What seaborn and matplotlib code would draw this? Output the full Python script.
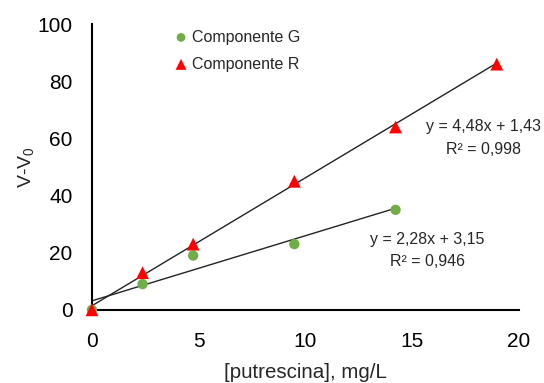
import matplotlib
matplotlib.use("Agg")
import matplotlib.pyplot as plt
import seaborn as sns
import numpy as np
import pandas as pd

# data
conc_g = [0, 2.37, 4.74, 9.48, 14.22]
vals_g = [0, 9, 19, 23, 35]
conc_r = [0, 2.37, 4.74, 9.48, 14.22, 18.96]
vals_r = [0, 13, 23, 45, 64, 86]
fit_g = (2.28, 3.15)
fit_r = (4.48, 1.43)
eq_g = ["y = 2,28x + 3,15", "R² = 0,946"]
eq_r = ["y = 4,48x + 1,43", "R² = 0,998"]

sns.set_style("white")
plt.rcParams['font.family'] = ['Liberation Sans', 'DejaVu Sans']
plt.rcParams['mathtext.fontset'] = 'custom'
plt.rcParams['mathtext.rm'] = 'Liberation Sans'
plt.rcParams['mathtext.it'] = 'Liberation Sans'

df_g = pd.DataFrame({'x': conc_g, 'y': vals_g, 's': 'Componente G'})
df_r = pd.DataFrame({'x': conc_r, 'y': vals_r, 's': 'Componente R'})

fig = plt.figure(figsize=(5.44, 3.83), dpi=100)
ax = fig.add_axes([0.169, 0.191, 0.785, 0.746])

# trend lines
for xs, (m, b) in [(conc_g, fit_g), (conc_r, fit_r)]:
    xx = np.array([0, max(xs)])
    ax.plot(xx, m * xx + b, color='#222222', lw=1.0, zorder=2)

sns.scatterplot(data=df_g, x='x', y='y', label='Componente G', color='#70AD47',
                marker='o', s=55, edgecolor='none', ax=ax, zorder=3)
sns.scatterplot(data=df_r, x='x', y='y', label='Componente R', color='#FF0000',
                marker='^', s=85, edgecolor='none', ax=ax, zorder=4)

ax.set_xlim(0, 20)
ax.set_ylim(0, 100)
ax.set_xticks([0, 5, 10, 15, 20])
ax.set_yticks([0, 20, 40, 60, 80, 100])
ax.tick_params(axis='both', direction='out', length=5, width=1.5,
               labelsize=15, colors='black')
ax.tick_params(axis='x', pad=11)
ax.tick_params(axis='y', pad=9)
for sp in ['top', 'right']:
    ax.spines[sp].set_visible(False)
for sp in ['left', 'bottom']:
    ax.spines[sp].set_linewidth(1.5)
    ax.spines[sp].set_color('black')
for c in ax.collections:
    c.set_clip_on(False)

ax.set_xlabel('[putrescina], mg/L', fontsize=14.8)
ax.set_ylabel('V-V$_0$', fontsize=14)
ax.xaxis.set_label_coords(0.5, -0.185)
ax.yaxis.set_label_coords(-0.13, 0.5)

ax.text(18.36, 64, eq_r[0], ha='center', va='center', fontsize=11.5)
ax.text(18.36, 56, eq_r[1], ha='center', va='center', fontsize=11.5)
ax.text(15.7, 24.5, eq_g[0], ha='center', va='center', fontsize=11.5)
ax.text(15.7, 16.8, eq_g[1], ha='center', va='center', fontsize=11.5)

leg = ax.legend(loc='upper left', bbox_to_anchor=(0.16, 1.02), frameon=False,
                fontsize=11.5, handletextpad=0.1, labelspacing=0.75,
                borderpad=0.2, handlelength=1.2, markerscale=0.85)

fig.savefig('out.png', dpi=100)
